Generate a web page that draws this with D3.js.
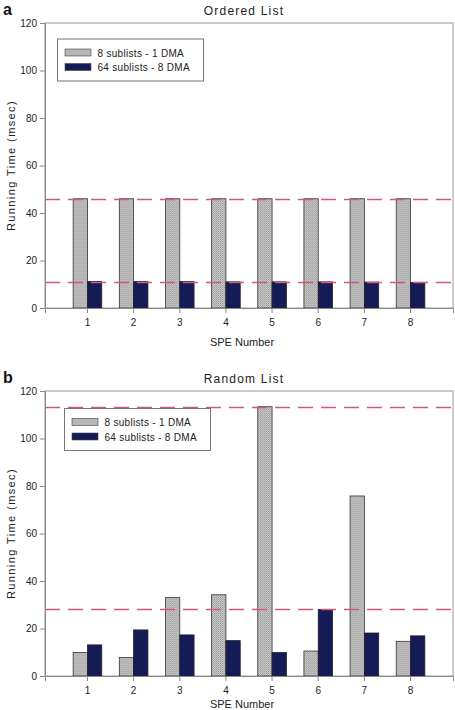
<!DOCTYPE html>
<html>
<head>
<meta charset="utf-8">
<script src="https://cdn.jsdelivr.net/npm/d3@7"></script>
<style>
  body { margin: 0; background: #fff; }
  text { font-family: "Liberation Sans", Arial, sans-serif; }
</style>
</head>
<body>
<div id="chart"></div>
<script>
// data
var speNumbers = ["1", "2", "3", "4", "5", "6", "7", "8"];
var seriesNames = ["8 sublists - 1 DMA", "64 sublists - 8 DMA"];
var yTicks = [0, 20, 40, 60, 80, 100, 120];

var orderedOneDma = [46, 46, 46, 46, 46, 46, 46, 46];
var orderedEightDma = [11.2, 11.1, 11.1, 11, 11, 11, 10.9, 10.8];
var orderedRefLines = [45.9, 10.8];

var randomOneDma = [9.9, 7.8, 33.0, 34.2, 113.4, 10.5, 75.8, 14.6];
var randomEightDma = [13.1, 19.4, 17.3, 14.9, 9.9, 28.0, 18.1, 16.9];
var randomRefLines = [113.1, 28.0];

var W = 455, H = 710;
var svg = d3.select("#chart").append("svg")
    .attr("width", W)
    .attr("height", H);

// stipple pattern for the light bars
var defs = svg.append("defs");
var pat = defs.append("pattern")
    .attr("id", "stipple")
    .attr("patternUnits", "userSpaceOnUse")
    .attr("width", 2)
    .attr("height", 2);
pat.append("rect").attr("width", 2).attr("height", 2).attr("fill", "#cdcdcd");
pat.append("rect").attr("width", 1).attr("height", 1).attr("fill", "#979797");
pat.append("rect").attr("x", 1).attr("y", 1).attr("width", 1).attr("height", 1).attr("fill", "#aaaaaa");

var navy = "#151b57";

function drawPanel(cfg) {
    var margin = {left: 45, right: 2};
    var width = W - margin.left - margin.right;
    var height = cfg.bottom - cfg.top;

    var g = svg.append("g")
        .attr("transform", "translate(" + margin.left + "," + cfg.top + ")");

    var x = d3.scaleBand()
        .domain(speNumbers)
        .range([0, width])
        .paddingInner(0)
        .paddingOuter(0.42);

    var y = d3.scaleLinear()
        .domain([0, 120])
        .range([height, 0]);

    var barW = x.step() * 0.31;

    // frame
    g.append("rect")
        .attr("width", width)
        .attr("height", height)
        .attr("fill", "none")
        .attr("stroke", "#9a9a9a")
        .attr("stroke-width", 1);

    var rows = speNumbers.map(function (s, i) {
        return {spe: s, a: cfg.oneDma[i], b: cfg.eightDma[i]};
    });

    var groups = g.selectAll(".grp")
        .data(rows)
        .enter().append("g")
        .attr("class", "grp")
        .attr("transform", function (d) { return "translate(" + (x(d.spe) + x.bandwidth() / 2) + ",0)"; });

    groups.append("rect")
        .attr("x", -barW)
        .attr("y", function (d) { return y(d.a); })
        .attr("width", barW)
        .attr("height", function (d) { return height - y(d.a); })
        .attr("fill", "url(#stipple)")
        .attr("stroke", "#333")
        .attr("stroke-width", 0.8);

    groups.append("rect")
        .attr("x", 0)
        .attr("y", function (d) { return y(d.b); })
        .attr("width", barW)
        .attr("height", function (d) { return height - y(d.b); })
        .attr("fill", navy)
        .attr("stroke", "#222")
        .attr("stroke-width", 0.8);

    // reference dashed lines, drawn over the bars
    g.selectAll(".ref")
        .data(cfg.refLines)
        .enter().append("line")
        .attr("class", "ref")
        .attr("x1", 0)
        .attr("x2", width)
        .attr("y1", function (d) { return Math.round(y(d)) + 0.5; })
        .attr("y2", function (d) { return Math.round(y(d)) + 0.5; })
        .style("stroke", "#d4587a")
        .style("stroke-width", 1.3)
        .style("stroke-dasharray", "15,8");

    // axes
    var xAxis = d3.axisBottom(x).tickSize(5).tickPadding(6);
    var gX = g.append("g")
        .attr("transform", "translate(0," + height + ")")
        .call(xAxis);
    gX.select(".domain").attr("stroke", "#888");
    gX.selectAll(".tick line").attr("stroke", "#888");
    gX.selectAll(".tick text")
        .attr("font-size", 10)
        .attr("fill", "#222")
        .style("font-family", "Liberation Sans, Arial, sans-serif");

    var yAxis = d3.axisLeft(y).tickValues(yTicks).tickSize(5).tickPadding(3);
    var gY = g.append("g").call(yAxis);
    gY.select(".domain").attr("stroke", "#888");
    gY.selectAll(".tick line").attr("stroke", "#888");
    gY.selectAll(".tick text")
        .attr("font-size", 10)
        .attr("fill", "#222")
        .style("font-family", "Liberation Sans, Arial, sans-serif");

    g.append("text")
        .attr("x", width / 2 - 7)
        .attr("y", height + cfg.xTitleOffset)
        .attr("text-anchor", "middle")
        .attr("font-size", 11)
        .attr("fill", "#222")
        .text("SPE Number");

    g.append("text")
        .attr("transform", "rotate(-90)")
        .attr("x", -height / 2)
        .attr("y", -30)
        .attr("text-anchor", "middle")
        .attr("font-size", 11)
        .attr("letter-spacing", 1.4)
        .attr("fill", "#222")
        .text("Running Time (msec)");

    // title and panel letter
    g.append("text")
        .attr("x", width / 2 - 5)
        .attr("y", -8)
        .attr("text-anchor", "middle")
        .attr("font-size", 12)
        .attr("letter-spacing", 1.2)
        .attr("fill", "#222")
        .text(cfg.title);

    svg.append("text")
        .attr("x", 3)
        .attr("y", cfg.top - 8)
        .attr("font-size", 16)
        .attr("font-weight", "bold")
        .attr("fill", "#111")
        .text(cfg.letter);

    // legend
    var lg = g.append("g")
        .attr("transform", "translate(" + cfg.legend[0] + "," + cfg.legend[1] + ")");
    lg.append("rect")
        .attr("width", 146)
        .attr("height", 42)
        .attr("fill", "#fff")
        .attr("stroke", "#777")
        .attr("stroke-width", 1);
    var fills = ["url(#stipple)", navy];
    seriesNames.forEach(function (name, i) {
        lg.append("rect")
            .attr("x", 7.5)
            .attr("y", 10 + i * 14.5)
            .attr("width", 26)
            .attr("height", 7)
            .attr("fill", fills[i])
            .attr("stroke", "#444")
            .attr("stroke-width", 0.6);
        lg.append("text")
            .attr("x", 40)
            .attr("y", 17.5 + i * 14.5)
            .attr("font-size", 10)
            .attr("letter-spacing", 0.3)
            .attr("fill", "#222")
            .text(name);
    });
}

drawPanel({
    top: 23, bottom: 308,
    title: "Ordered List", letter: "a",
    oneDma: orderedOneDma, eightDma: orderedEightDma,
    refLines: orderedRefLines,
    legend: [12.5, 16],
    xTitleOffset: 38
});

drawPanel({
    top: 391, bottom: 676,
    title: "Random List", letter: "b",
    oneDma: randomOneDma, eightDma: randomEightDma,
    refLines: randomRefLines,
    legend: [19.5, 17.5],
    xTitleOffset: 32
});
</script>
</body>
</html>
